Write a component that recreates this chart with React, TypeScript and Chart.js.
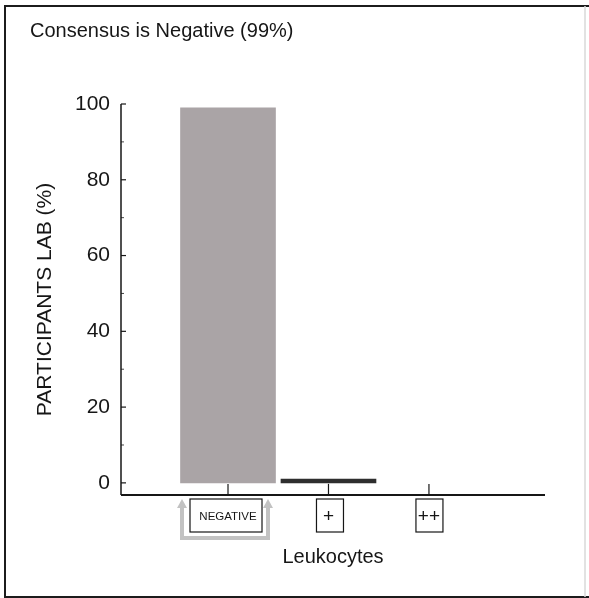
import React, { useEffect, useRef } from 'react';
import { Chart, registerables } from 'chart.js';

Chart.register(...registerables);

const categories = ['NEGATIVE', '+', '++'];
const values = [99, 1, 0];
const barColors = ['#aaa4a6', '#2e2e2e', '#2e2e2e'];
const yTicks = [0, 20, 40, 60, 80, 100];
const yMinorTicks = [10, 30, 50, 70, 90];
const chartTitle = 'Consensus is Negative (99%)';
const yTitle = 'PARTICIPANTS LAB (%)';
const xTitle = 'Leukocytes';

const FONT = "'Liberation Sans', Arial, sans-serif";
const INK = '#161616';

const decor = {
  id: 'decor',
  beforeDraw(chart: any) {
    const { ctx, width, height } = chart;
    ctx.save();
    ctx.fillStyle = '#ffffff';
    ctx.fillRect(0, 0, width, height);
    ctx.restore();
  },
  afterDraw(chart: any) {
    const { ctx, chartArea: ca } = chart;
    const xs = chart.scales.x;
    const ys = chart.scales.y;
    ctx.save();
    ctx.strokeStyle = INK;
    // y axis line
    ctx.lineWidth = 1.5;
    ctx.beginPath();
    ctx.moveTo(ca.left, ys.getPixelForValue(100));
    ctx.lineTo(ca.left, ca.bottom);
    ctx.stroke();
    // y ticks
    ctx.lineWidth = 1.2;
    yTicks.forEach((v) => {
      const p = ys.getPixelForValue(v);
      ctx.beginPath();
      ctx.moveTo(ca.left, p);
      ctx.lineTo(ca.left + 5, p);
      ctx.stroke();
    });
    ctx.lineWidth = 0.8;
    yMinorTicks.forEach((v) => {
      const p = ys.getPixelForValue(v);
      ctx.beginPath();
      ctx.moveTo(ca.left, p);
      ctx.lineTo(ca.left + 3, p);
      ctx.stroke();
    });
    // x axis line
    ctx.lineWidth = 2;
    ctx.beginPath();
    ctx.moveTo(ca.left, ca.bottom);
    ctx.lineTo(ca.right, ca.bottom);
    ctx.stroke();
    // x ticks
    ctx.lineWidth = 1.2;
    const y0 = ys.getPixelForValue(0);
    categories.forEach((_, i) => {
      const p = xs.getPixelForValue(i);
      ctx.beginPath();
      ctx.moveTo(p, ca.bottom);
      ctx.lineTo(p, y0 + 1);
      ctx.stroke();
    });
    // grey bracket with arrows around the consensus label
    const pn = xs.getPixelForValue(0);
    ctx.strokeStyle = '#c2c2c2';
    ctx.fillStyle = '#c2c2c2';
    ctx.lineWidth = 4;
    const bl = pn - 46;
    const br = pn + 40;
    const bb = ca.bottom + 43;
    ctx.beginPath();
    ctx.moveTo(bl, ca.bottom + 12);
    ctx.lineTo(bl, bb);
    ctx.lineTo(br, bb);
    ctx.lineTo(br, ca.bottom + 12);
    ctx.stroke();
    [bl, br].forEach((ax) => {
      ctx.beginPath();
      ctx.moveTo(ax - 5, ca.bottom + 13);
      ctx.lineTo(ax + 5, ca.bottom + 13);
      ctx.lineTo(ax, ca.bottom + 4);
      ctx.closePath();
      ctx.fill();
    });
    // label boxes
    ctx.strokeStyle = INK;
    ctx.lineWidth = 1.2;
    const boxTop = ca.bottom + 4;
    const boxH = 33;
    const boxes = [
      [-38, 72],
      [-12, 27],
      [-13, 27],
    ];
    categories.forEach((_, i) => {
      const p = xs.getPixelForValue(i);
      ctx.strokeRect(p + boxes[i][0], boxTop, boxes[i][1], boxH);
    });
    // frame
    ctx.strokeStyle = '#1c1c1c';
    ctx.lineWidth = 2;
    ctx.beginPath();
    ctx.moveTo(589, 6);
    ctx.lineTo(5, 6);
    ctx.lineTo(5, 597);
    ctx.lineTo(589, 597);
    ctx.stroke();
    ctx.strokeStyle = '#d8d8d8';
    ctx.lineWidth = 1.5;
    ctx.beginPath();
    ctx.moveTo(585, 6);
    ctx.lineTo(585, 597);
    ctx.stroke();
    ctx.restore();
  },
};

export default function App() {
  const ref = useRef<HTMLCanvasElement | null>(null);
  useEffect(() => {
    if (!ref.current) return;
    const chart = new Chart(ref.current, {
      type: 'bar',
      data: {
        datasets: [
          {
            data: values.map((v, i) => ({ x: i, y: v === 0 ? null : v })),
            backgroundColor: barColors,
            borderWidth: 0,
            barThickness: 95,
          },
        ],
      },
      options: {
        responsive: false,
        animation: false,
        devicePixelRatio: 1,
        layout: { padding: { left: 30, right: 44, top: 0, bottom: 20 } },
        plugins: {
          legend: { display: false },
          tooltip: { enabled: false },
          title: {
            display: true,
            text: chartTitle,
            align: 'start',
            color: INK,
            font: { family: FONT, size: 20, weight: 'normal' },
            padding: { top: 19, bottom: 61 },
          },
        },
        scales: {
          x: {
            type: 'linear',
            offset: false,
            min: -1.065,
            max: 3.155,
            grid: { display: false, offset: false },
            border: { display: false },
            afterBuildTicks: (scale: any) => {
              scale.ticks = categories.map((_, i) => ({ value: i }));
            },
            afterFit: (scale: any) => {
              scale.height = 83;
            },
            ticks: {
              autoSkip: false,
              maxRotation: 0,
              color: INK,
              padding: 2,
              font: (c: any) =>
                c.index === 0
                  ? { family: FONT, size: 11.5, lineHeight: '24px' }
                  : { family: FONT, size: 19, lineHeight: '24px' },
              callback: (_v: any, i: number) => categories[i],
            },
            title: {
              display: true,
              text: xTitle,
              color: INK,
              font: { family: FONT, size: 20 },
              padding: { top: 0, bottom: 9 },
            },
          },
          y: {
            type: 'linear',
            min: -3.2,
            max: 100,
            grid: { display: false },
            border: { display: false },
            afterBuildTicks: (scale: any) => {
              scale.ticks = yTicks.map((v) => ({ value: v }));
            },
            afterFit: (scale: any) => {
              scale.width = 91;
            },
            ticks: {
              color: INK,
              padding: 3,
              font: { family: FONT, size: 21 },
            },
            title: {
              display: true,
              text: yTitle,
              color: INK,
              font: { family: FONT, size: 21 },
              padding: { top: 3, bottom: 0 },
            },
          },
        },
      },
      plugins: [decor],
    });
    return () => chart.destroy();
  }, []);
  return (
    <div style={{ position: 'absolute', left: 0, top: 0, width: 589, height: 598 }}>
      <canvas ref={ref} width={589} height={598} style={{ width: 589, height: 598, display: 'block' }} />
    </div>
  );
}
